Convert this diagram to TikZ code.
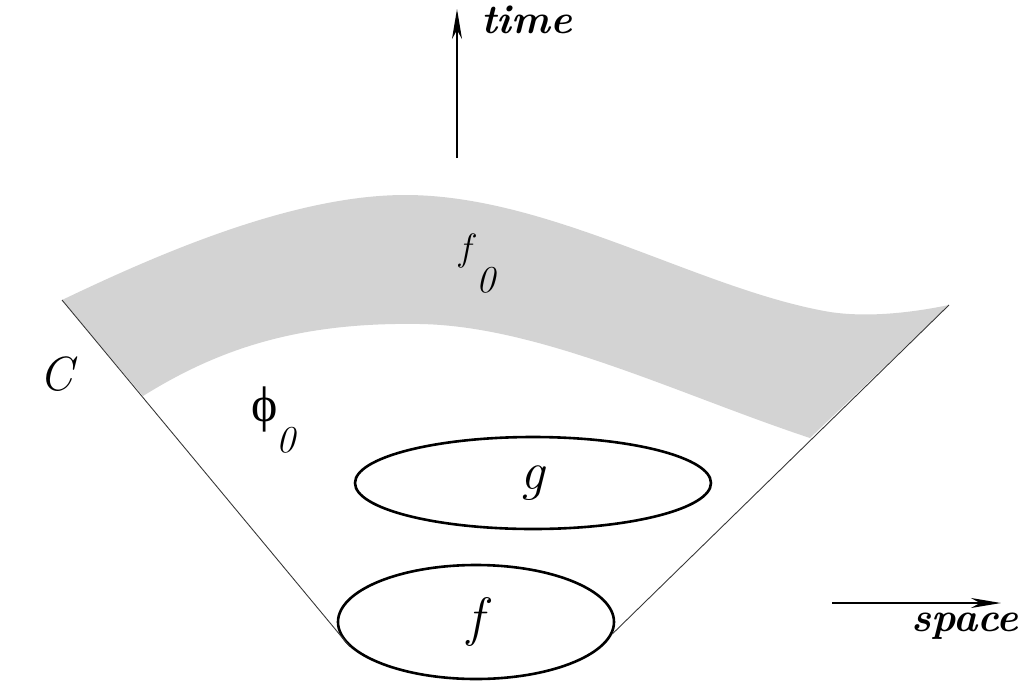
\documentclass[tikz,border=0pt]{standalone}
\usepackage{fontspec}
\newfontfamily\phifont{Liberation Serif}
\usetikzlibrary{arrows.meta,shapes.geometric}
\definecolor{bandgray}{RGB}{211,211,211}
\definecolor{conegray}{RGB}{55,55,55}
\begin{document}
\begin{tikzpicture}[x=1pt,y=-1pt,
  axisarrow/.style={line width=2.4pt,-{Stealth[length=30pt,width=10pt,inset=9pt]}},
  oval/.style={ellipse,draw,line width=2.6pt,inner sep=0pt},
  big/.style={font=\fontsize{54}{62}\selectfont\itshape},
  mid/.style={font=\fontsize{38}{44}\selectfont\itshape,inner sep=0pt},
  axislbl/.style={font=\fontsize{41}{48}\selectfont\bfseries\itshape,inner sep=0pt},
  coneline/.style={draw=conegray,line width=0.9pt}]
\path[use as bounding box] (0,0) rectangle (1029,686);
% gray band
\fill[bandgray] (62,300) .. controls (150,258) and (290,195) .. (405,195)
  .. controls (550,195) and (700,290) .. (830,312)
  .. controls (870,318) and (915,312) .. (949,305)
  -- (810,438) .. controls (680,395) and (540,326) .. (420,324)
  .. controls (300,322) and (220,348) .. (143,396) -- cycle;
% ellipses
\node[oval,big,minimum width=356pt,minimum height=92pt] (g) at (533,483) {g};
\node[oval,big,minimum width=276pt,minimum height=114pt] (f) at (476,622) {f};
% cone
\coordinate (CL) at (62,300);
\coordinate (CR) at (949,305);
\draw[coneline] (CL) -- (f.191);
\draw[coneline] (CR) -- (f.355);
% labels
\node[big,inner sep=0pt,anchor=base,font=\fontsize{48}{56}\selectfont\itshape] (C) at (56,390) {C};
\node[inner sep=0pt,anchor=base,font=\fontsize{50}{60}\selectfont\phifont] (phi) at (265,421) {ϕ};
\node[mid,anchor=base west] (phisub) at (276,452) {0};
\node[mid,anchor=base west] (f0) at (459,260) {f};
\node[mid,anchor=base west] (f0sub) at (476,292) {0};
% axes
\coordinate (t0) at (457,158);
\coordinate (t1) at (457,9);
\draw[axisarrow] (t0) -- (t1);
\node[axislbl,anchor=base west] (time) at (481,33) {time};
\coordinate (s0) at (832,603);
\coordinate (s1) at (1001,603);
\draw[axisarrow] (s0) -- (s1);
\node[axislbl,anchor=base west] (space) at (911,631) {space};
\end{tikzpicture}
\end{document}
